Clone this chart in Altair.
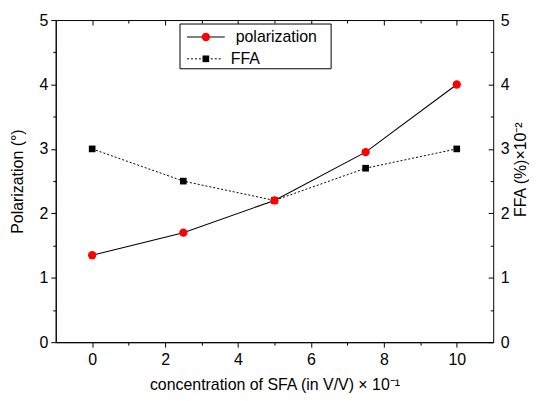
import altair as alt
import pandas as pd

conc = [0, 2.5, 5, 7.5, 10]
polarization = [1.35, 1.7, 2.2, 2.95, 4.0]
ffa = [3.0, 2.5, 2.2, 2.7, 3.0]

x_ticks = [0, 1, 2, 3, 4, 5, 6, 7, 8, 9, 10]
y_ticks = [0, 0.5, 1, 1.5, 2, 2.5, 3, 3.5, 4, 4.5, 5]

legend_labels = ["polarization", "FFA"]

x_title = "concentration of SFA (in V/V) \u00d7 10\u207b\u00b9"
y_left_title = "Polarization (\u00b0)"
y_right_title = "FFA (%)\u00d710\u207b\u00b2"

df = pd.DataFrame({"conc": conc, "pol": polarization, "ffa": ffa})
one = pd.DataFrame({"label": [legend_labels[0]]})
one2 = pd.DataFrame({"label": [legend_labels[1]]})

FONT = "Liberation Sans"
W, H = 440, 324

xscale = alt.Scale(domain=[-1, 11], nice=False, zero=False)
yscale = alt.Scale(domain=[0, 5], nice=False, zero=False)

x_major = {"condition": {"test": "datum.value % 2 == 0", "value": 5}, "value": 3}
y_major = {"condition": {"test": "datum.value % 1 == 0", "value": 5}, "value": 3}

common = dict(grid=False, domainColor="black", tickColor="black",
              labelFont=FONT, titleFont=FONT, labelColor="black", titleColor="black",
              labelFontSize=16, titleFontSize=16, titleFontWeight="normal")

int_label = "datum.value % 1 == 0 ? format(datum.value, 'd') : ''"

x_bottom = alt.Axis(values=x_ticks, orient="bottom",
                    labelExpr="datum.value % 2 == 0 ? format(datum.value, 'd') : ''",
                    tickSize=x_major, labelPadding=4, title=x_title, titlePadding=10,
                    labelFlush=False, **common)
x_top = alt.Axis(values=x_ticks, orient="bottom", offset=-H, labels=False, domain=False,
                 tickSize=x_major, title=None, grid=False, tickColor="black")
y_left = alt.Axis(values=y_ticks, orient="left", labelExpr=int_label,
                  tickSize=y_major, labelPadding=3, title=y_left_title, titlePadding=14,
                  labelFlush=False, **common)
y_right_lab = alt.Axis(values=[0, 1, 2, 3, 4, 5], orient="right", ticks=False, domain=False,
                       labelExpr=int_label,
                       labelPadding=7, title=y_right_title, titleAngle=270, titlePadding=4,
                       titleBaseline="top", titleY=150, labelFlush=False, **common)
y_right_ticks = alt.Axis(values=y_ticks, orient="left", offset=-W, labels=False, domain=False,
                         tickSize=y_major, title=None, grid=False, tickColor="black")

base = alt.Chart(df)

pol_line = base.mark_line(color="black", strokeWidth=1.1).encode(
    x=alt.X("conc:Q", scale=xscale, axis=x_bottom),
    y=alt.Y("pol:Q", scale=yscale, axis=y_left),
)
pol_pts = base.mark_point(shape="circle", filled=True, color="#ff0000", size=70, opacity=1).encode(
    x=alt.X("conc:Q", scale=xscale, axis=None),
    y=alt.Y("pol:Q", scale=yscale, axis=None),
)
ffa_line = base.mark_line(color="black", strokeWidth=1, strokeDash=[2, 2]).encode(
    x=alt.X("conc:Q", scale=xscale, axis=x_top),
    y=alt.Y("ffa:Q", scale=yscale, axis=y_right_lab),
)
ffa_pts = base.mark_point(shape="square", filled=True, color="black", size=45, opacity=1).encode(
    x=alt.X("conc:Q", scale=xscale, axis=None),
    y=alt.Y("ffa:Q", scale=yscale, axis=y_right_ticks),
)

# legend box
leg_box = alt.Chart(one).mark_rect(fill="white", stroke="black", strokeWidth=1).encode(
    x=alt.value(125), x2=alt.value(277), y=alt.value(4), y2=alt.value(49))
leg_l1 = alt.Chart(one).mark_rule(color="black", strokeWidth=1.1).encode(
    x=alt.value(132), x2=alt.value(170), y=alt.value(17))
leg_p1 = alt.Chart(one).mark_point(shape="circle", filled=True, color="#ff0000", size=70, opacity=1).encode(
    x=alt.value(151), y=alt.value(17))
leg_t1 = alt.Chart(one).mark_text(align="left", baseline="middle", font=FONT, fontSize=16, color="black").encode(
    x=alt.value(181), y=alt.value(17), text="label:N")
leg_l2 = alt.Chart(one2).mark_rule(color="black", strokeWidth=1, strokeDash=[2, 2]).encode(
    x=alt.value(132), x2=alt.value(168), y=alt.value(39))
leg_p2 = alt.Chart(one2).mark_point(shape="square", filled=True, color="black", size=45, opacity=1).encode(
    x=alt.value(151), y=alt.value(39))
leg_t2 = alt.Chart(one2).mark_text(align="left", baseline="middle", font=FONT, fontSize=16, color="black").encode(
    x=alt.value(176), y=alt.value(39), text="label:N")

chart = alt.layer(
    pol_line, ffa_line, ffa_pts, pol_pts,
    leg_box, leg_l1, leg_p1, leg_t1, leg_l2, leg_p2, leg_t2,
).resolve_scale(y="independent").resolve_axis(x="independent", y="independent").properties(
    width=W, height=H, padding={"left": 1, "top": 3, "right": 0, "bottom": 0},
    background="white",
).configure_view(stroke="black", strokeWidth=1)

chart.save("out.html", embed_options={"renderer": "svg", "actions": False})
